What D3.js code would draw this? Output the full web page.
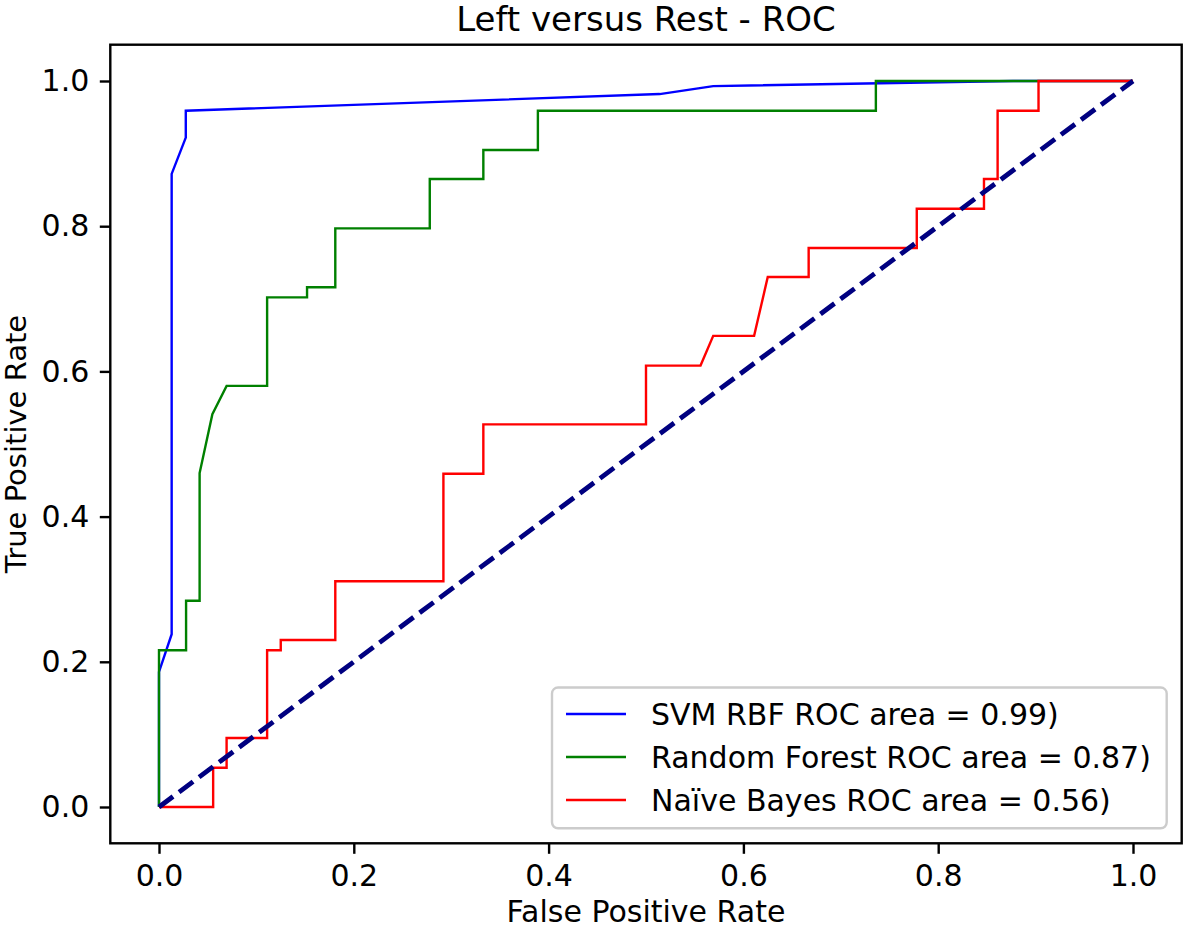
<!DOCTYPE html>
<html>
<head>
<meta charset="utf-8">
<script src="https://cdn.jsdelivr.net/npm/d3@7"></script>
<style>
  body { margin: 0; background: #fff; }
  svg { display: block; font-family: "DejaVu Sans", sans-serif; }
</style>
</head>
<body>
<svg id="chart" width="1183" height="929"></svg>
<script>
// ---- data ----
const titleText = "Left versus Rest - ROC";
const xLabel = "False Positive Rate";
const yLabel = "True Positive Rate";
const tickValues = [0.0, 0.2, 0.4, 0.6, 0.8, 1.0];

const svmFpr = [0, 0, 0.013, 0.013, 0.0275, 0.0275, 0.514, 0.569, 0.877, 1];
const svmTpr = [0, 0.186, 0.238, 0.872, 0.922, 0.959, 0.982, 0.993, 1.0, 1.0];

const rfFpr = [0, 0, 0.0278, 0.0278, 0.0417, 0.0417, 0.0548, 0.0694, 0.111, 0.111, 0.152, 0.152, 0.181, 0.181, 0.278, 0.278, 0.333, 0.333, 0.389, 0.389, 0.736, 0.736, 1];
const rfTpr = [0, 0.216, 0.216, 0.284, 0.284, 0.46, 0.541, 0.58, 0.58, 0.702, 0.702, 0.716, 0.716, 0.797, 0.797, 0.865, 0.865, 0.905, 0.905, 0.959, 0.959, 1, 1];

const nbFpr = [0, 0.0556, 0.0556, 0.0694, 0.0694, 0.111, 0.111, 0.125, 0.125, 0.181, 0.181, 0.292, 0.292, 0.333, 0.333, 0.5, 0.5, 0.556, 0.569, 0.611, 0.625, 0.667, 0.667, 0.778, 0.778, 0.847, 0.847, 0.861, 0.861, 0.903, 0.903, 1];
const nbTpr = [0, 0, 0.054, 0.054, 0.095, 0.095, 0.216, 0.216, 0.23, 0.23, 0.311, 0.311, 0.459, 0.459, 0.527, 0.527, 0.608, 0.608, 0.649, 0.649, 0.73, 0.73, 0.77, 0.77, 0.824, 0.824, 0.865, 0.865, 0.959, 0.959, 1, 1];

const chanceX = [0, 1];
const chanceY = [0, 1];

const seriesNames = ["SVM RBF ROC area = 0.99)", "Random Forest ROC area = 0.87)", "Naïve Bayes ROC area = 0.56)"];
const seriesColors = ["#0000ff", "#008000", "#ff0000"];

// ---- layout ----
const svg = d3.select("#chart");
const L = 110.3, R = 1181.7, T = 44.7, B = 843.3;
const x = d3.scaleLinear().domain([-0.05, 1.05]).range([L, R]);
const y = d3.scaleLinear().domain([-0.05, 1.05]).range([B, T]);

const line = d3.line().x(d => x(d[0])).y(d => y(d[1]));
const zip = (a, b) => a.map((v, i) => [v, b[i]]);

const series = [zip(svmFpr, svmTpr), zip(rfFpr, rfTpr), zip(nbFpr, nbTpr)];
const plot = svg.append("g");
series.forEach((s, i) => {
  plot.append("path").datum(s).attr("d", line)
    .attr("fill", "none").attr("stroke", seriesColors[i])
    .attr("stroke-width", 2.4).attr("stroke-linejoin", "miter");
});
plot.append("path").datum(zip(chanceX, chanceY)).attr("d", line)
  .attr("fill", "none").attr("stroke", "#000080")
  .attr("stroke-width", 4.8).attr("stroke-dasharray", "17.5,7.5");

// axes
const fmt = d3.format(".1f");
const xAxis = svg.append("g").attr("transform", `translate(0,${B})`)
  .call(d3.axisBottom(x).tickValues(tickValues).tickFormat(fmt).tickSize(10.5).tickPadding(10.5));
const yAxis = svg.append("g").attr("transform", `translate(${L},0)`)
  .call(d3.axisLeft(y).tickValues(tickValues).tickFormat(fmt).tickSize(10.5).tickPadding(10.5));
[xAxis, yAxis].forEach(a => {
  a.select(".domain").remove();
  a.selectAll(".tick line").attr("stroke", "#000").attr("stroke-width", 2.4);
  a.selectAll(".tick text").attr("fill", "#000").style("font-size", "30px")
    .style("font-family", "DejaVu Sans");
});

// frame
svg.append("rect").attr("x", L).attr("y", T).attr("width", R - L).attr("height", B - T)
  .attr("fill", "none").attr("stroke", "#000").attr("stroke-width", 2.4);

// title & labels
svg.append("text").attr("x", (L + R) / 2).attr("y", 31).attr("text-anchor", "middle")
  .style("font-size", "34px").text(titleText);
svg.append("text").attr("x", (L + R) / 2).attr("y", 922).attr("text-anchor", "middle")
  .style("font-size", "30px").text(xLabel);
svg.append("text").attr("transform", `translate(26,${(T + B) / 2}) rotate(-90)`)
  .attr("text-anchor", "middle").style("font-size", "29px").text(yLabel);

// legend
const lg = svg.append("g");
const lgL = 552, lgT = 687.5, lgR = 1166.7, lgB = 828.3;
lg.append("rect").attr("x", lgL).attr("y", lgT).attr("width", lgR - lgL).attr("height", lgB - lgT)
  .attr("rx", 6).attr("fill", "#fff").attr("fill-opacity", 0.8)
  .attr("stroke", "#cccccc").attr("stroke-width", 2.4);
seriesNames.forEach((name, i) => {
  const cy = 714 + i * 43;
  lg.append("line").attr("x1", 566).attr("x2", 626).attr("y1", cy).attr("y2", cy)
    .attr("stroke", seriesColors[i]).attr("stroke-width", 2.4);
  lg.append("text").attr("x", 651).attr("y", cy).attr("dy", "0.36em")
    .style("font-size", "30px").text(name);
});
</script>
</body>
</html>
